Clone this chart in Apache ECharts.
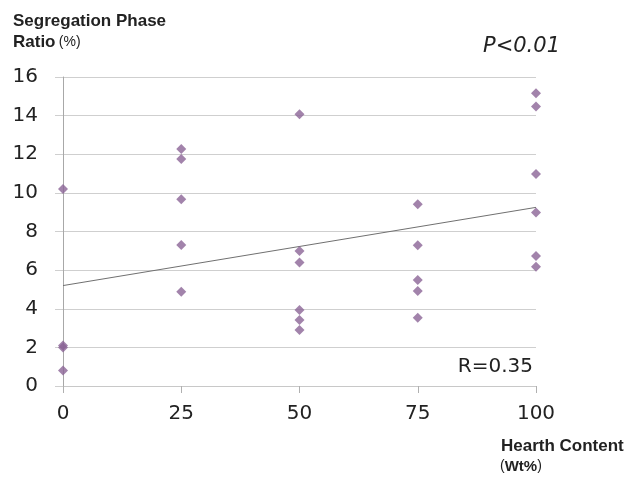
<!DOCTYPE html>
<html><head><meta charset="utf-8">
<script src="https://cdn.jsdelivr.net/npm/echarts@6/dist/echarts.min.js"></script>
<style>html,body{margin:0;padding:0;background:#fff}#c{width:629px;height:481px}</style>
</head><body><div id="c"></div>
<script>
const hearthContent = [0,0,0,0, 25,25,25,25,25, 50,50,50,50,50,50, 75,75,75,75,75, 100,100,100,100,100,100];
const phaseRatio = [10.2,2.1,2.0,0.8, 12.27,11.75,9.67,7.3,4.88, 14.07,6.99,6.39,3.94,3.42,2.9, 9.41,7.29,5.49,4.92,3.54, 15.16,14.47,10.98,8.99,6.73,6.18];
const trendX = [0, 100];
const trendY = [5.2, 9.25];
const xTicks = [0, 25, 50, 75, 100];
const yTicks = [0, 2, 4, 6, 8, 10, 12, 14, 16];

const chart = echarts.init(document.getElementById('c'));
chart.setOption({
  animation: false,
  backgroundColor: '#fff',
  grid: {left: 63, right: 93, top: 77, bottom: 95},
  xAxis: {
    type: 'value', min: xTicks[0], max: xTicks[xTicks.length-1], interval: 25,
    axisLine: {show: true, lineStyle: {color: '#c8c8c8', width: 1}},
    axisTick: {show: true, length: 7, lineStyle: {color: '#b0b0b0'}},
    splitLine: {show: false},
    axisLabel: {fontFamily: 'DejaVu Sans', fontSize: 20, color: '#222', margin: 18}
  },
  yAxis: {
    type: 'value', min: yTicks[0], max: yTicks[yTicks.length-1], interval: 2,
    axisLine: {show: true, lineStyle: {color: '#a8a8a8', width: 1}},
    axisTick: {show: true, length: 8, lineStyle: {color: '#cfcfcf'}},
    splitLine: {show: true, lineStyle: {color: '#cfcfcf', width: 1}},
    axisLabel: {fontFamily: 'DejaVu Sans', fontSize: 20, color: '#222', margin: 25}
  },
  series: [
    {
      type: 'line', data: trendX.map((x, i) => [x, trendY[i]]),
      symbol: 'none', lineStyle: {color: '#707070', width: 1}, z: 2
    },
    {
      type: 'scatter', data: hearthContent.map((x, i) => [x, phaseRatio[i]]),
      symbol: 'diamond', symbolSize: [10, 10], itemStyle: {color: '#8b6496'}, z: 3
    }
  ],
  graphic: [
    {type: 'text', left: 13, top: 13, style: {text: 'Segregation Phase', fontFamily: 'Liberation Sans', fontWeight: 'bold', fontSize: 17, fill: '#222'}},
    {type: 'text', left: 13, top: 34, style: {text: '{b|Ratio} {s|(%)}', rich: {b: {fontFamily: 'Liberation Sans', fontWeight: 'bold', fontSize: 17, fill: '#222'}, s: {fontFamily: 'Liberation Sans', fontSize: 14, fill: '#222'}}}},
    {type: 'text', left: 483, top: 36, style: {text: 'P<0.01', fontFamily: 'DejaVu Sans', fontStyle: 'italic', fontSize: 21, fill: '#222'}},
    {type: 'text', right: 96, top: 357, style: {text: 'R=0.35', fontFamily: 'DejaVu Sans', fontSize: 20, fill: '#222'}},
    {type: 'text', left: 501, top: 438, style: {text: 'Hearth Content', fontFamily: 'Liberation Sans', fontWeight: 'bold', fontSize: 17, fill: '#222'}},
    {type: 'text', left: 500, top: 459, style: {text: '{s|(}{b|Wt%}{s|)}', rich: {b: {fontFamily: 'Liberation Sans', fontWeight: 'bold', fontSize: 15, fill: '#222'}, s: {fontFamily: 'Liberation Sans', fontSize: 14, fill: '#222'}}}}
  ]
});
</script></body></html>
